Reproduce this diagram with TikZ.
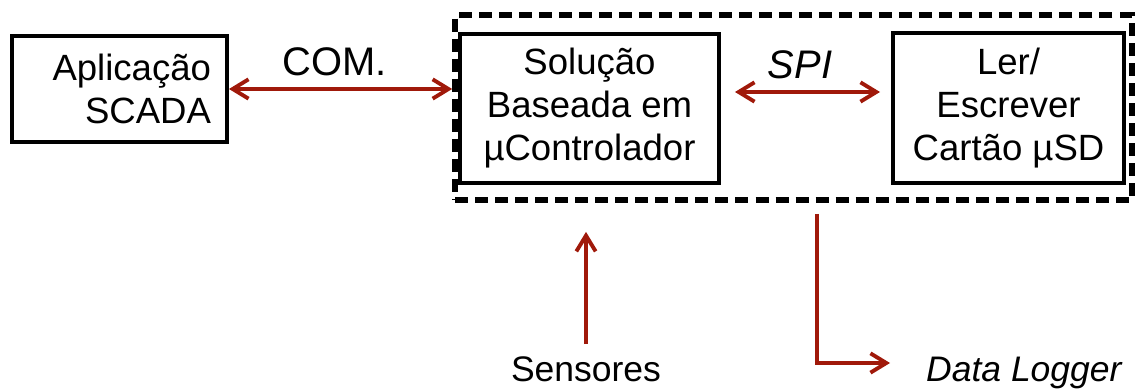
\documentclass[tikz,border=0pt]{standalone}
\usepackage{fontspec}
\setmainfont{Liberation Sans}
\usetikzlibrary{arrows.meta,calc}
\definecolor{vermelho}{RGB}{160,25,10}

\begin{document}
\begin{tikzpicture}[
    x=0.02cm, y=0.02cm,
    font=\fontsize{20.8}{24.5}\selectfont,
    >={Straight Barb[length=9pt,width=11pt]},
    caixa/.style={draw,line width=2.3pt,inner sep=0pt,align=center},
    grupo/.style={draw,line width=3.3pt,dash pattern=on 7.4pt off 4pt,inner sep=0pt},
    seta/.style={vermelho,line width=2.2pt},
    rotulo/.style={anchor=base,font=\fontsize{22.7}{26}\selectfont},
    externo/.style={font=\fontsize{20.2}{24}\selectfont},
  ]
  \useasboundingbox (0,0) rectangle (1137,392);

  % ---------------------------------------------------------------- blocos
  \node[grupo,minimum width=13.54cm,minimum height=3.7cm] (sistema) at (793.5,284.5) {};
  \node[caixa,minimum width=4.3cm,minimum height=2.12cm,text width=3.66cm,align=right]
    (scada) at (119.5,303) {Aplicação\\SCADA};
  \node[caixa,minimum width=5.18cm,minimum height=2.98cm] (sol) at (589.5,283.5)
    {Solução\\Baseada em\\µControlador};
  \node[caixa,minimum width=4.62cm,minimum height=3cm] (ler) at (1008.5,284)
    {Ler/\\Escrever\\Cartão µSD};

  % ---------------------------------------------------------------- ligacoes
  \draw[seta,<->] (scada.east) -- (scada.east -| sistema.west);
  \node[rotulo] (com) at (335,316) {COM.};

  \draw[seta,<->,shorten <=0.28cm,shorten >=0.22cm] (sol.east |- 0,300) -- (ler.west |- 0,300);
  \node[rotulo] (spi) at (800,313) {\itshape SPI};

  % Entrada e saida por baixo do sistema
  \node[externo,anchor=base] (sens) at (586,10) {Sensores};
  \draw[seta,->,shorten <=0.14cm,shorten >=0.58cm] (sens.north) -- (sens.north |- sistema.south);

  \node[externo,anchor=base west] (dl) at (920,10) {\itshape Data Logger};
  \coordinate (dlini) at (817,178);
  \coordinate (dlfim) at (890,29);
  \draw[seta,->] (dlini) |- (dlfim);
\end{tikzpicture}
\end{document}
